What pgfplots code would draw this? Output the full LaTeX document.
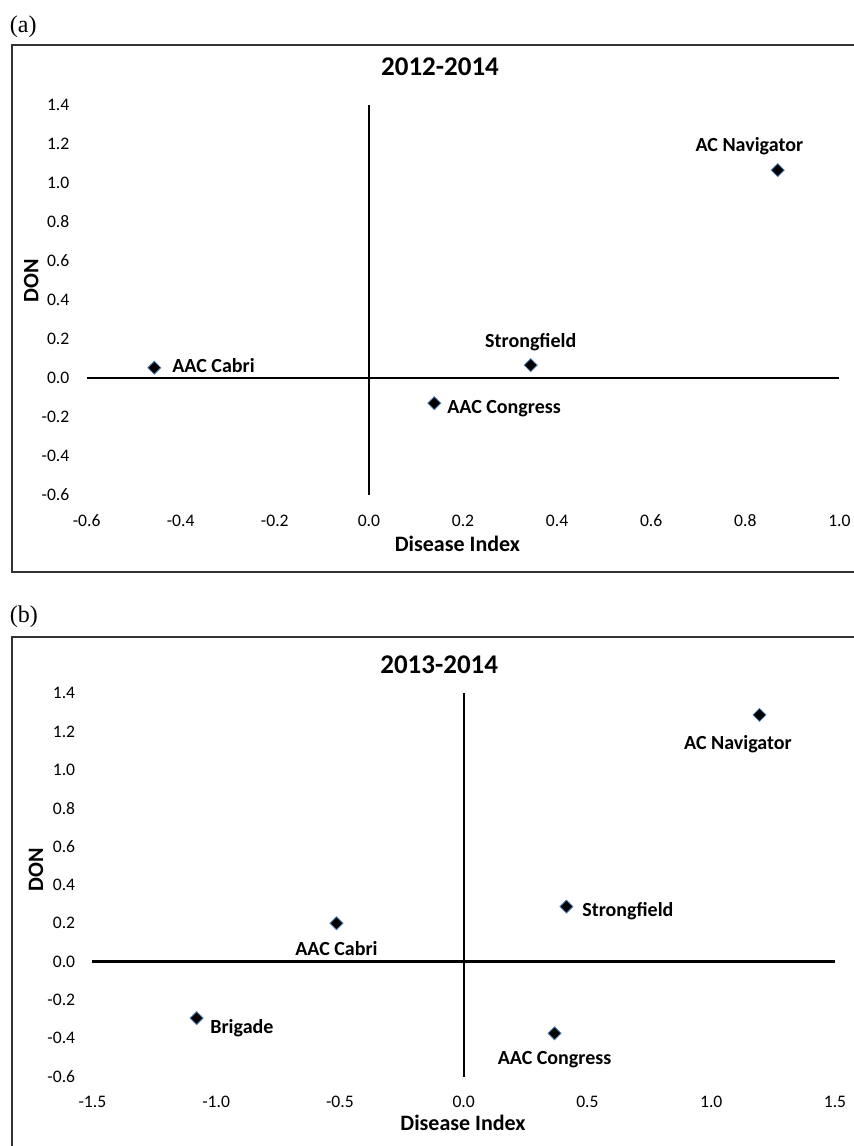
\documentclass[border=0pt]{standalone}
\usepackage{pgfplots}
\pgfplotsset{compat=1.18}
\usepackage{fontspec}
\setmainfont{Carlito}
\newfontfamily\timesfont{Liberation Serif}
\definecolor{mkblue}{RGB}{79,129,189}
\pgfplotsset{
  quad/.style={
    scale only axis, anchor=south west, clip=false,
    axis line style={draw=none}, tick style={draw=none},
    tick label style={font=\fontsize{8.8}{10}\selectfont},
    /pgf/number format/fixed, /pgf/number format/fixed zerofill,
    /pgf/number format/precision=1, /pgf/number format/assume math mode=true,
    yticklabel style={xshift=-5.1pt},
    xticklabel style={yshift=-6.3pt},
    nodes near coords, point meta=explicit symbolic,
  },
  pt/.style={only marks, mark=square*, mark size=2.3pt,
    mark options={rotate=45, fill=black, draw=mkblue, line width=0.4pt}},
  lab/.style={nodes near coords style={font=\fontsize{10}{12}\selectfont\bfseries, inner sep=0pt, #1}},
}
\begin{document}
\begin{tikzpicture}
\clip (0,0) rectangle (427pt,-573pt);
\path[use as bounding box] (0,0) rectangle (427pt,-573pt);
% frames
\draw[line width=0.9pt, black!80] (5.85pt,-22.5pt) rectangle (440pt,-285.85pt);
\draw[line width=0.9pt, black!80] (5.85pt,-318.3pt) rectangle (440pt,-590pt);
% panel labels
\node[anchor=base west, inner sep=0pt, font=\timesfont\fontsize{12}{14}\selectfont] at (4.8pt,-16.2pt) {(a)};
\node[anchor=base west, inner sep=0pt, font=\timesfont\fontsize{12}{14}\selectfont] at (4.8pt,-311.2pt) {(b)};
% titles
\node[anchor=base, inner sep=0pt, font=\fontsize{13.5}{16}\selectfont\bfseries] at (220pt,-37.5pt) {2012-2014};
\node[anchor=base, inner sep=0pt, font=\fontsize{13.5}{16}\selectfont\bfseries] at (219.6pt,-336.7pt) {2013-2014};
% axis labels
\node[anchor=base, inner sep=0pt, font=\fontsize{11}{13}\selectfont\bfseries] at (228.7pt,-275.5pt) {Disease Index};
\node[anchor=base, inner sep=0pt, font=\fontsize{11}{13}\selectfont\bfseries] at (231.5pt,-565.3pt) {Disease Index};
\node[anchor=base, rotate=90, inner sep=0pt, font=\fontsize{11}{13}\selectfont\bfseries] at (19.2pt,-140.4pt) {DON};
\node[anchor=base, rotate=90, inner sep=0pt, font=\fontsize{11}{13}\selectfont\bfseries] at (21.5pt,-435pt) {DON};

% ---------- panel (a)
\begin{axis}[quad,
  at={(43.3pt,-247.5pt)}, width=376.4pt, height=195pt,
  xmin=-0.6, xmax=1.0, ymin=-0.6, ymax=1.4,
  xtick={-0.6,-0.4,-0.2,0,0.2,0.4,0.6,0.8,1.0},
  ytick={-0.6,-0.4,-0.2,0,0.2,0.4,0.6,0.8,1.0,1.2,1.4},
]
\draw[line width=1pt] (axis cs:-0.6,0) -- (axis cs:1.0,0);
\draw[line width=1pt] (axis cs:0,-0.6) -- (axis cs:0,1.4);
\addplot[pt, lab={anchor=base west, xshift=8.8pt, yshift=-2.5pt}] coordinates {(-0.456,0.053) [AAC Cabri]};
\addplot[pt, lab={anchor=base west, xshift=6.3pt, yshift=-5.3pt}] coordinates {(0.139,-0.129) [AAC Congress]};
\addplot[pt, lab={anchor=base, yshift=8.7pt}] coordinates {(0.344,0.066) [Strongfield]};
\addplot[pt, lab={anchor=base, xshift=-14.2pt, yshift=9.3pt}] coordinates {(0.869,1.066) [AC Navigator]};
\end{axis}

% ---------- panel (b)
\begin{axis}[quad,
  at={(46.2pt,-538.3pt)}, width=371.3pt, height=191.7pt,
  xmin=-1.5, xmax=1.5, ymin=-0.6, ymax=1.4,
  xtick={-1.5,-1.0,-0.5,0,0.5,1.0,1.5},
  ytick={-0.6,-0.4,-0.2,0,0.2,0.4,0.6,0.8,1.0,1.2,1.4},
]
\draw[line width=1.4pt] (axis cs:-1.5,0) -- (axis cs:1.5,0);
\draw[line width=1pt] (axis cs:0,-0.6) -- (axis cs:0,1.4);
\addplot[pt, lab={anchor=base, yshift=-16.3pt}] coordinates {(-0.514,0.200) [AAC Cabri]};
\addplot[pt, lab={anchor=base west, xshift=6.7pt, yshift=-7.8pt}] coordinates {(-1.079,-0.295) [Brigade]};
\addplot[pt, lab={anchor=base west, xshift=7.8pt, yshift=-5pt}] coordinates {(0.415,0.287) [Strongfield]};
\addplot[pt, lab={anchor=base, yshift=-15.8pt}] coordinates {(0.367,-0.374) [AAC Congress]};
\addplot[pt, lab={anchor=base, xshift=-10.8pt, yshift=-17.5pt}] coordinates {(1.195,1.287) [AC Navigator]};
\end{axis}
\end{tikzpicture}
\end{document}
